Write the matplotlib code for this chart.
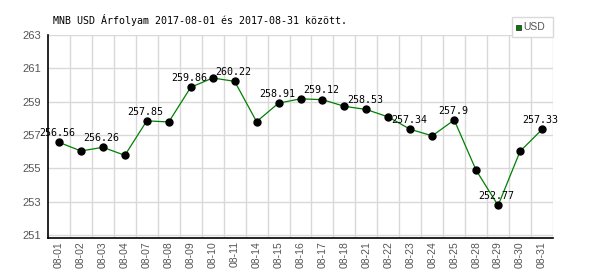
import matplotlib
matplotlib.use("Agg")
import matplotlib.pyplot as plt
from matplotlib.patches import Rectangle

dates = ["08-01", "08-02", "08-03", "08-04", "08-07", "08-08", "08-09", "08-10",
         "08-11", "08-14", "08-15", "08-16", "08-17", "08-18", "08-21", "08-22",
         "08-23", "08-24", "08-25", "08-28", "08-29", "08-30", "08-31"]
usd = [256.56, 256.04, 256.26, 255.78, 257.85, 257.78, 259.86, 260.42,
       260.22, 257.8, 258.91, 259.17, 259.12, 258.72, 258.53, 258.08,
       257.34, 256.95, 257.9, 254.88, 252.77, 256.02, 257.33]
yticks = [251, 253, 255, 257, 259, 261, 263]
title = "MNB USD Árfolyam 2017-08-01 és 2017-08-31 között."
series_name = "USD"

fig = plt.figure(figsize=(6, 2.7), dpi=100)
ax = fig.add_axes([48/600, 1-238.3/270, (553-48)/600, (238.3-35)/270])

x = list(range(len(dates)))
ax.plot(x, usd, color="#008000", lw=0.9, marker="o", markersize=5,
        markerfacecolor="black", markeredgecolor="black", zorder=3)

for i in range(0, len(dates), 2):
    ax.annotate(f"{usd[i]:g}", (x[i], usd[i]), xytext=(-1, 4.5),
                textcoords="offset points", ha="center", va="baseline",
                fontsize=7.2, family="DejaVu Sans Mono", color="black", zorder=4)

ax.set_xlim(-0.5, len(dates) - 0.5)
ax.set_ylim(250.8, 263)
ax.set_yticks(yticks)
ax.set_yticklabels([str(v) for v in yticks])
ax.set_xticks(x)
ax.set_xticklabels(dates, rotation=90)
ax.set_xticks([i + 0.5 for i in range(len(dates))], minor=True)

ax.grid(False)
for v in yticks:
    ax.axhline(v, color="#d9d9d9", lw=1, zorder=0)
for i in range(len(dates)):
    ax.axvline(i + 0.5, color="#d9d9d9", lw=1, zorder=0)

ax.tick_params(axis="both", which="both", length=0)
ax.tick_params(axis="y", pad=5, labelsize=8, labelcolor="#555555")
ax.tick_params(axis="x", pad=2, labelsize=7.5, labelcolor="#555555")
for lab in ax.get_xticklabels() + ax.get_yticklabels():
    lab.set_family("Liberation Sans")

for s in ["top", "right"]:
    ax.spines[s].set_visible(False)
for s in ["left", "bottom"]:
    ax.spines[s].set_color("black")
    ax.spines[s].set_linewidth(1.2)

fig.text(53/600, 1-20/270, title, ha="left", va="center", fontsize=7.2,
         family="DejaVu Sans Mono", color="black")

# legend box
fig.patches.append(Rectangle((512/600, 1-37/270), 41/600, 20/270,
                             transform=fig.transFigure, facecolor="white",
                             edgecolor="#d9d9d9", lw=1, zorder=5))
fig.patches.append(Rectangle((516/600, 1-29.5/270), 5/600, 5/270,
                             transform=fig.transFigure, facecolor="#008000",
                             edgecolor="#333333", lw=0.6, zorder=6))
fig.text(523/600, 1-27/270, series_name, ha="left", va="center", fontsize=7.5,
         family="Liberation Sans", color="#555555", zorder=7)

fig.savefig("out.png", dpi=100)
